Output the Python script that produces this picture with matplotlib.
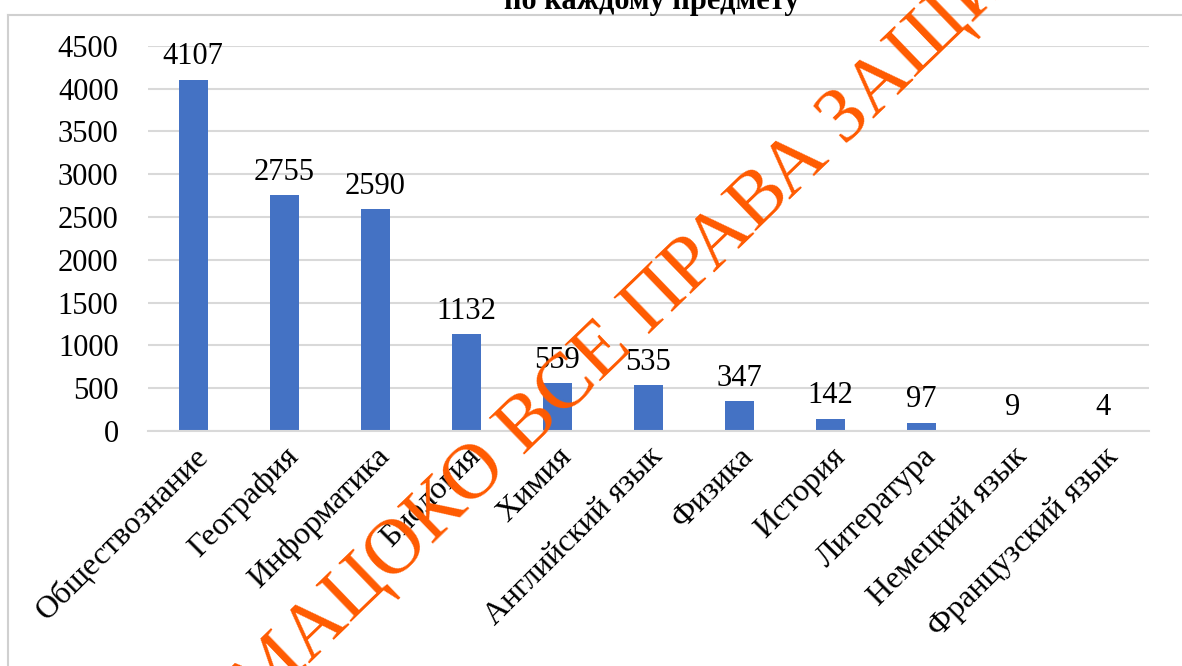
import matplotlib
matplotlib.use("Agg")
import matplotlib.pyplot as plt
from matplotlib.lines import Line2D
import numpy as np

# Data
subjects = ["Обществознание", "География", "Информатика", "Биология", "Химия",
            "Английский язык", "Физика", "История", "Литература",
            "Немецкий язык", "Французский язык"]
counts = [4107, 2755, 2590, 1132, 559, 535, 347, 142, 97, 9, 4]
y_ticks = [0, 500, 1000, 1500, 2000, 2500, 3000, 3500, 4000, 4500]

plt.rcParams['font.family'] = 'serif'
plt.rcParams['font.serif'] = ['Liberation Serif']

fig = plt.figure(figsize=(11.82, 6.66), dpi=100)
ax = fig.add_axes([0.125, 0.353, 0.847, 0.578])

x = np.arange(len(subjects))
ax.bar(x, counts, width=0.32, color='#4472C4', zorder=2)

# value labels above bars
for xi, v in zip(x, counts):
    ax.annotate(str(v), (xi, v), xytext=(0, 6), textcoords='offset points',
                ha='center', va='bottom', fontsize=22, color='black')

ax.set_xlim(-0.5, len(subjects) - 0.5)
ax.set_ylim(0, 4500)
ax.set_yticks(y_ticks)
ax.set_yticklabels([str(t) for t in y_ticks], fontsize=22)
ax.set_xticks(x)
ax.set_xticklabels(subjects, fontsize=23, rotation=45, ha='right',
                   rotation_mode='anchor')
ax.tick_params(axis='y', length=0, pad=21)
ax.tick_params(axis='x', length=0, pad=8)

ax.grid(axis='y', color='#D9D9D9', linewidth=1.5, zorder=0)
for side in ['left', 'right', 'top']:
    ax.spines[side].set_visible(False)
ax.spines['bottom'].set_color('#D9D9D9')
ax.spines['bottom'].set_linewidth(1.5)

# title (only its second line is visible in the cropped picture)
fig.text(0.551, 1 - 9 / 666, "по каждому предмету", ha='center',
         va='baseline', fontsize=22, fontweight='bold')

# frame of the chart area
fig.add_artist(Line2D([8 / 1182, 1], [1 - 15 / 666, 1 - 15 / 666],
                      color='#D0D0D0', linewidth=1.5))
fig.add_artist(Line2D([8 / 1182, 8 / 1182], [0, 1 - 15 / 666],
                      color='#D0D0D0', linewidth=1.5))

# watermark
fig.text(258 / 1182, 1 - 712 / 666, "МАЦОКО ВСЕ ПРАВА ЗАЩИЩЕНЫ",
         rotation=44, rotation_mode='anchor', ha='left', va='baseline',
         fontsize=57, color='#FF5A00', zorder=10)

fig.savefig("out.png", dpi=100)
